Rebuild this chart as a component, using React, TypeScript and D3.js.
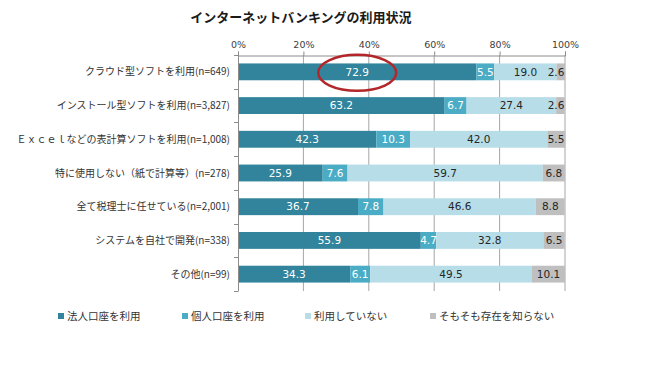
import React, { useRef, useEffect } from 'react';
import * as d3 from 'd3';

const categories = [
  'クラウド型ソフトを利用(n=649)',
  'インストール型ソフトを利用(n=3,827)',
  'Ｅｘｃｅｌなどの表計算ソフトを利用(n=1,008)',
  '特に使用しない（紙で計算等）(n=278)',
  '全て税理士に任せている(n=2,001)',
  'システムを自社で開発(n=338)',
  'その他(n=99)',
];
const seriesNames = ['法人口座を利用', '個人口座を利用', '利用していない', 'そもそも存在を知らない'];
const corporate = [72.9, 63.2, 42.3, 25.9, 36.7, 55.9, 34.3];
const personal = [5.5, 6.7, 10.3, 7.6, 7.8, 4.7, 6.1];
const notUsing = [19.0, 27.4, 42.0, 59.7, 46.6, 32.8, 49.5];
const unaware = [2.6, 2.6, 5.5, 6.8, 8.8, 6.5, 10.1];
const xTicks = [0, 20, 40, 60, 80, 100];

const colors = ['#31849b', '#4bacc6', '#b7dee8', '#bfbfbf'];
const labelColors = ['#ffffff', '#ffffff', '#262626', '#262626'];

const App = () => {
  const svgRef = useRef<SVGSVGElement>(null);

  useEffect(() => {
    const svg = d3.select(svgRef.current);
    svg.selectAll('*').remove();

    const rows = categories.map((c, i) => ({
      cat: c,
      s0: corporate[i],
      s1: personal[i],
      s2: notUsing[i],
      s3: unaware[i],
    }));
    const keys = ['s0', 's1', 's2', 's3'];
    const stacked = d3.stack<any>().keys(keys)(rows);

    const x = d3.scaleLinear().domain([0, 100]).range([238, 565]);
    const y = d3.scaleBand().domain(categories).range([55, 291]).paddingInner(0.5).paddingOuter(0.25);

    // title
    svg.append('text')
      .attr('x', 301)
      .attr('y', 22)
      .attr('text-anchor', 'middle')
      .style('font-family', '"Noto Sans CJK JP", sans-serif')
      .style('font-size', '13px')
      .style('font-weight', 'bold')
      .attr('fill', '#1a1a1a')
      .text('インターネットバンキングの利用状況');

    // grid lines
    svg.append('g')
      .selectAll('line')
      .data(xTicks.slice(1))
      .join('line')
      .attr('x1', d => x(d))
      .attr('x2', d => x(d))
      .attr('y1', 55)
      .attr('y2', 291)
      .attr('stroke', '#a6a6a6')
      .attr('stroke-width', 1);

    // top axis
    const top = svg.append('g')
      .attr('transform', 'translate(0,55.5)')
      .call(d3.axisTop(x).tickValues(xTicks).tickSize(4).tickFormat(d => `${d}%`));
    top.select('.domain').attr('stroke', '#8c8c8c');
    top.selectAll('.tick line').attr('stroke', '#8c8c8c');
    top.selectAll('.tick text')
      .attr('y', -8)
      .attr('fill', '#404040')
      .style('font-family', '"DejaVu Sans", sans-serif')
      .style('font-size', '9.5px');

    // bars
    const layers = svg.append('g')
      .selectAll('g')
      .data(stacked)
      .join('g')
      .attr('fill', (_, i) => colors[i]);

    layers.selectAll('rect')
      .data(d => d)
      .join('rect')
      .attr('x', d => x(d[0]))
      .attr('width', d => x(d[1]) - x(d[0]))
      .attr('y', d => y(d.data.cat)!)
      .attr('height', y.bandwidth());

    // value labels
    stacked.forEach((layer, li) => {
      svg.append('g')
        .selectAll('text')
        .data(layer)
        .join('text')
        .attr('x', d => {
          const c = x((d[0] + d[1]) / 2);
          return Math.min(c, 565 - 9);
        })
        .attr('y', d => y(d.data.cat)! + y.bandwidth() / 2)
        .attr('dy', '0.36em')
        .attr('text-anchor', 'middle')
        .attr('fill', labelColors[li])
        .style('font-family', '"DejaVu Sans", sans-serif')
        .style('font-size', '10.5px')
        .text(d => (d[1] - d[0]).toFixed(1));
    });

    // left axis
    const step = y.step();
    const bounds = d3.range(categories.length + 1).map(i => 55 + i * step);
    svg.append('line')
      .attr('x1', 238.5).attr('x2', 238.5)
      .attr('y1', 55).attr('y2', 291)
      .attr('stroke', '#8c8c8c');
    svg.append('g')
      .selectAll('line')
      .data(bounds)
      .join('line')
      .attr('x1', 234).attr('x2', 238.5)
      .attr('y1', d => Math.round(d) + 0.5)
      .attr('y2', d => Math.round(d) + 0.5)
      .attr('stroke', '#8c8c8c');

    svg.append('g')
      .selectAll('text')
      .data(categories)
      .join('text')
      .attr('x', 230)
      .attr('y', d => y(d)! + y.bandwidth() / 2)
      .attr('dy', '0.36em')
      .attr('text-anchor', 'end')
      .attr('fill', '#333333')
      .style('font-family', '"Noto Sans CJK JP", sans-serif')
      .style('font-size', '10px')
      .text(d => d);

    // highlight ellipse
    const first = stacked[0][0];
    svg.append('ellipse')
      .attr('cx', x((first[0] + first[1]) / 2))
      .attr('cy', y(categories[0])! + y.bandwidth() / 2 + 1)
      .attr('rx', 39)
      .attr('ry', 18)
      .attr('fill', 'none')
      .attr('stroke', '#b3262a')
      .attr('stroke-width', 2.5);

    // legend
    const legendX = [58, 182, 305, 430];
    const legend = svg.append('g')
      .selectAll('g')
      .data(seriesNames)
      .join('g')
      .attr('transform', (_, i) => `translate(${legendX[i]},316)`);
    legend.append('rect')
      .attr('x', 0).attr('y', -3)
      .attr('width', 6).attr('height', 6)
      .attr('fill', (_, i) => colors[i]);
    legend.append('text')
      .attr('x', 9)
      .attr('dy', '0.36em')
      .attr('fill', '#333333')
      .style('font-family', '"Noto Sans CJK JP", sans-serif')
      .style('font-size', '10.5px')
      .text(d => d);
  }, []);

  return (
    <svg
      ref={svgRef}
      width={665}
      height={391}
      style={{ position: 'absolute', left: 0, top: 0, background: '#ffffff' }}
    />
  );
};

export default App;
